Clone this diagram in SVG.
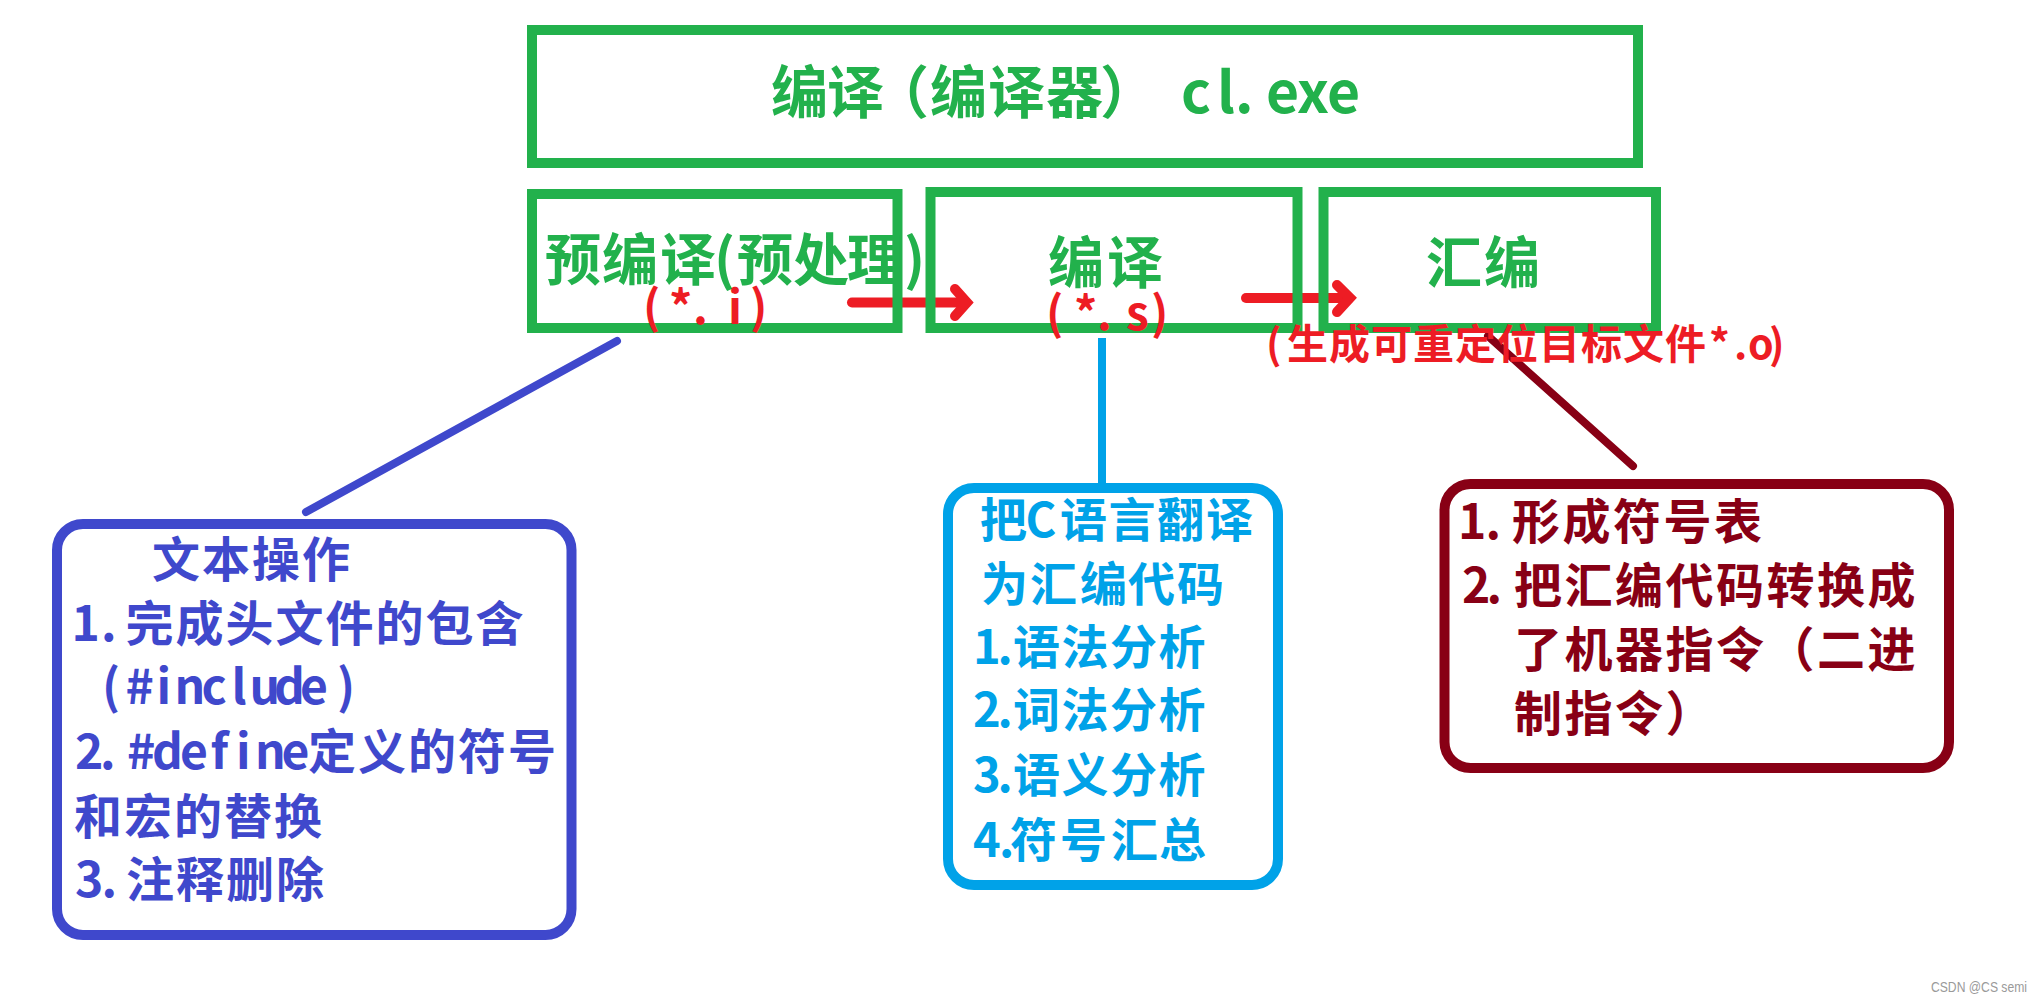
<svg xmlns="http://www.w3.org/2000/svg" width="2042" height="1000" viewBox="0 0 2042 1000">
<style>
text{font-family:"Noto Sans CJK SC","Noto Sans",sans-serif;font-weight:700}
.g{fill:#22B14C;font-size:56px}
.r{fill:#ED1C24}
.b{fill:#3F48CC;font-size:48px}
.c{fill:#00A2E8;font-size:47px}
.d{fill:#880015;font-size:48px}
.box{fill:none;stroke:#22B14C;stroke-width:10}
.rbox{fill:none;stroke-width:10}
.arr{fill:none;stroke:#ED1C24;stroke-width:10;stroke-linecap:round}
</style>
<rect width="2042" height="1000" fill="#fff"/>
<g id="connectors">
<path class="arr" d="M852 302.5H962"/>
<path class="arr" d="M955 289L967 302.5L955 316" stroke-linejoin="miter" stroke-linecap="butt"/>
<path class="arr" d="M1246 298H1348"/>
<path class="arr" d="M1337 285L1350 298L1337 312" stroke-linejoin="miter" stroke-linecap="butt"/>
<line x1="617" y1="341" x2="306" y2="512" stroke="#3F48CC" stroke-width="8" stroke-linecap="round"/>
<line x1="1102" y1="338" x2="1102" y2="485" stroke="#00A2E8" stroke-width="8"/>
<line x1="1488" y1="336" x2="1633" y2="466" stroke="#880015" stroke-width="8" stroke-linecap="round"/>
</g>
<g id="compiler">
<rect class="box" x="532" y="30" width="1106" height="133"/>
<text class="g" style="font-size:57px" y="113" x="771 827 872 930 988 1046 1100 1150 1181 1217 1235 1266 1297 1327">编译（编译器） cl.exe</text>
</g>
<g id="preprocess">
<rect class="box" x="532" y="194" width="365.5" height="134"/>
<text class="g" y="280" x="545 602 660 714 737 793 847 904">预编译(预处理)</text>
<text class="r" style="font-size:46px" y="324" x="643 669 693 728 750">(*.i)</text>
</g>
<g id="compile">
<rect class="box" x="930.5" y="192" width="367" height="136"/>
<text class="g" y="283" x="1048 1107">编译</text>
<text class="r" style="font-size:46px" y="330" x="1046 1074 1097 1126 1151">(*.s)</text>
</g>
<g id="assemble">
<rect class="box" x="1323.5" y="192" width="332.5" height="136"/>
<text class="g" y="283" x="1426 1484">汇编</text>
<text class="r" style="font-size:41px" y="359" x="1266 1287 1329 1371 1413 1455 1497 1539 1581 1623 1665 1709 1734 1748 1769">(生成可重定位目标文件*.o)</text>
</g>
<g id="text-ops">
<rect class="rbox" x="57" y="524" width="514.5" height="411" rx="26" stroke="#3F48CC"/>
<text class="b" y="577" x="152 202 252 302">文本操作</text>
<text class="b" y="641" x="71.5 101 125.5 175.5 225.5 275.5 325.5 375.5 425.5 475.5">1.完成头文件的包含</text>
<text class="b" y="704" x="102 125.5 156.5 174.5 201.5 231.5 249.5 274 300 337">(#include)</text>
<text class="b" y="769" x="75 100 127 152 180 210.5 236 255 281.5 308 358 408 458 508">2.#define定义的符号</text>
<text class="b" y="834" x="74 124 174 224 274">和宏的替换</text>
<text class="b" y="897" x="75 101.5 126 176 226 276">3.注释删除</text>
</g>
<g id="compile-ops">
<rect class="rbox" x="948" y="488" width="330" height="397" rx="26" stroke="#00A2E8"/>
<text class="c" y="536.5" x="980 1025.5 1060 1108.5 1157 1206">把C语言翻译</text>
<text class="c" y="600.5" x="981 1030 1080 1128 1177">为汇编代码</text>
<text class="c" y="664" x="973 997.5 1013 1061.5 1110 1158.5">1.语法分析</text>
<text class="c" y="727" x="973 997.5 1013 1061.5 1110 1158.5">2.词法分析</text>
<text class="c" y="792" x="973 997.5 1013 1061.5 1110 1158.5">3.语义分析</text>
<text class="c" y="856.5" x="973 999 1010 1060 1111 1159">4.符号汇总</text>
</g>
<g id="assemble-ops">
<rect class="rbox" x="1444.5" y="484" width="504.5" height="284" rx="26" stroke="#880015"/>
<text class="d" y="539" x="1458 1485.5 1512 1562.5 1613 1663.5 1714">1.形成符号表</text>
<text class="d" y="603" x="1462 1486.5 1514 1564.5 1615 1665.5 1716 1766.5 1817 1867.5">2.把汇编代码转换成</text>
<text class="d" y="667" x="1514 1564.5 1615 1665.5 1716 1766.5 1817 1867.5">了机器指令（二进</text>
<text class="d" y="731" x="1514 1564.5 1615 1665.5">制指令）</text>
</g>
<text x="1931" y="992" style="font-family:'Liberation Sans',sans-serif;font-weight:400;font-size:14px;fill:#9a9a9a" textLength="96" lengthAdjust="spacingAndGlyphs">CSDN @CS semi</text>
</svg>
